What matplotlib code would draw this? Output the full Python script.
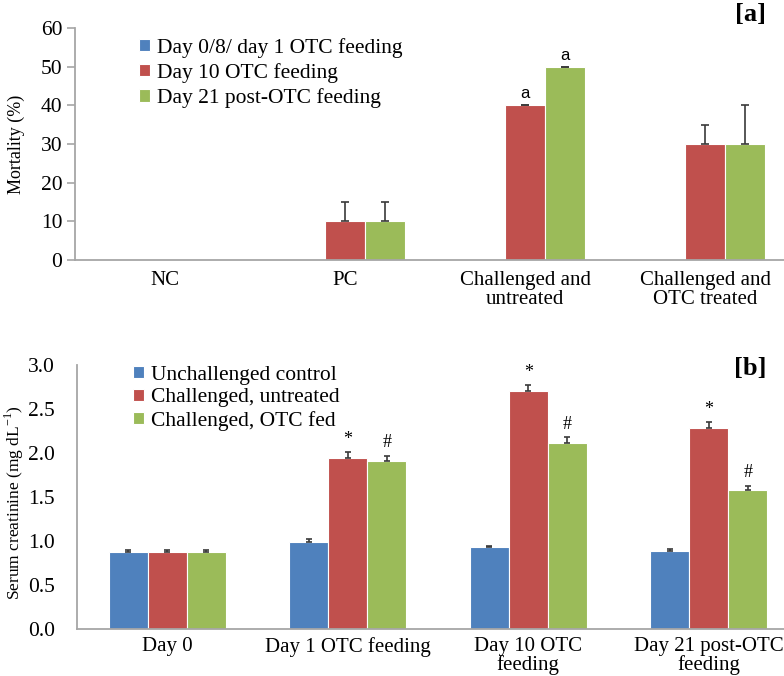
import matplotlib
matplotlib.use("Agg")
import matplotlib.pyplot as plt
import numpy as np

# panel a: mortality (%)
a_groups = ["NC", "PC", "Challenged and\nuntreated", "Challenged and\nOTC treated"]
a_series = ["Day 0/8/ day 1 OTC feeding", "Day 10 OTC feeding", "Day 21 post-OTC feeding"]
a_day1 = [0, 0, 0, 0]
a_day10 = [0, 10, 40, 30]
a_day21 = [0, 10, 50, 30]
a_day1_err = [0, 0, 0, 0]
a_day10_err = [0, 5, 0, 5]
a_day21_err = [0, 5, 0, 10]
a_day10_mark = ["", "", "a", ""]
a_day21_mark = ["", "", "a", ""]

# panel b: serum creatinine (mg/dL)
b_groups = ["Day 0", "Day 1 OTC feeding", "Day 10 OTC\nfeeding", "Day 21 post-OTC\nfeeding"]
b_series = ["Unchallenged control", "Challenged, untreated", "Challenged, OTC fed"]
b_ctrl = [0.88, 0.99, 0.93, 0.89]
b_untr = [0.88, 1.94, 2.71, 2.28]
b_otc = [0.88, 1.91, 2.11, 1.58]
b_ctrl_err = [0.02, 0.03, 0.01, 0.02]
b_untr_err = [0.02, 0.07, 0.06, 0.07]
b_otc_err = [0.02, 0.06, 0.07, 0.05]
b_untr_mark = ["", "*", "*", "*"]
b_otc_mark = ["", "#", "#", "#"]

COLORS = ["#4F81BD", "#C0504D", "#9BBB59"]
SPINE = "#a6a6a6"
W, H = 784, 676

plt.rcParams["font.family"] = ["Liberation Serif", "DejaVu Serif"]
fig = plt.figure(figsize=(W / 100, H / 100), dpi=100)


def panel(left_px, top_px, bottom_px, cat_px, xpad):
    ax = fig.add_axes([left_px / W, 1 - bottom_px / H, (W - left_px) / W, (bottom_px - top_px) / H])
    ax.set_xlim(-0.5, (W - left_px) / cat_px - 0.5)
    for s in ("top", "right"):
        ax.spines[s].set_visible(False)
    for s in ("left", "bottom"):
        ax.spines[s].set_color(SPINE)
        ax.spines[s].set_linewidth(1.3)
    ax.tick_params(axis="x", length=0, pad=xpad, labelsize=15)
    return ax


def draw(ax, series_vals, series_errs, marks, names, bw, mark_font, cap):
    x = np.arange(len(series_vals[0]))
    for i, (vals, errs) in enumerate(zip(series_vals, series_errs)):
        xs = x + (i - 1) * bw
        ax.bar(xs, vals, bw, color=COLORS[i], edgecolor="white", linewidth=0.8,
               label=names[i], zorder=2)
        vals = np.asarray(vals, float)
        errs = np.asarray(errs, float)
        keep = vals > 0
        if keep.any():
            ax.errorbar(xs[keep], vals[keep], yerr=[np.zeros(keep.sum()), errs[keep]],
                        fmt="none", ecolor="#3a3a3a", elinewidth=1.2, capsize=cap,
                        capthick=1.2, zorder=3)
        if marks[i] is not None:
            for xx, v, e, m in zip(xs, vals, errs, marks[i]):
                if m:
                    ax.annotate(m, (xx, v + e), xytext=(0, 3), textcoords="offset points",
                                ha="center", va="bottom", **mark_font)


def legend_at(ax, x_px, y_px, spacing):
    return ax.legend(loc="upper left", bbox_to_anchor=(x_px / W, 1 - y_px / H),
                     bbox_transform=fig.transFigure, frameon=False, fontsize=15.5,
                     handlelength=0.5, handleheight=0.5, handletextpad=0.35,
                     labelspacing=spacing, borderaxespad=0, borderpad=0)


# ---- panel a
axa = panel(75, 28, 260, 180, 8)
draw(axa, [a_day1, a_day10, a_day21], [a_day1_err, a_day10_err, a_day21_err],
     [None, a_day10_mark, a_day21_mark], a_series, 0.222,
     dict(fontsize=12, family="Liberation Sans"), 3)
axa.set_ylim(0, 60)
axa.set_yticks(np.arange(0, 61, 10))
axa.tick_params(axis="y", length=6, width=1.2, color=SPINE, pad=3, labelsize=15.5)
axa.set_xticks(np.arange(len(a_groups)))
axa.set_xticklabels(a_groups, linespacing=1.0)
axa.set_ylabel("Mortality (%)", fontsize=13)
axa.yaxis.set_label_coords((25 - 75) / (W - 75), 0.5)
legend_at(axa, 139, 38, 0.24)

# ---- panel b
axb = panel(77, 365, 629, 180.5, 6)
draw(axb, [b_ctrl, b_untr, b_otc], [b_ctrl_err, b_untr_err, b_otc_err],
     [None, b_untr_mark, b_otc_mark], b_series, 0.216,
     dict(fontsize=13), 2.5)
axb.set_ylim(0, 3.0)
axb.set_yticks(np.arange(0, 3.01, 0.5))
axb.set_yticklabels([f"{v:.1f}" for v in np.arange(0, 3.01, 0.5)])
axb.tick_params(axis="y", length=0, pad=16, labelsize=15.5)
axb.set_xticks(np.arange(len(b_groups)))
axb.set_xticklabels(b_groups, linespacing=0.9)
axb.set_ylabel("Serum creatinine (mg dL$^{\\mathregular{-1}}$)", fontsize=12.5)
axb.yaxis.set_label_coords((26 - 77) / (W - 77), 0.48)
legend_at(axb, 133, 366, 0.16)

fig.text(766 / W, 1 - 15 / H, "[a]", ha="right", va="center", fontsize=19, fontweight="bold")
fig.text(766 / W, 1 - 368 / H, "[b]", ha="right", va="center", fontsize=19, fontweight="bold")

fig.savefig("out.png", dpi=100)
